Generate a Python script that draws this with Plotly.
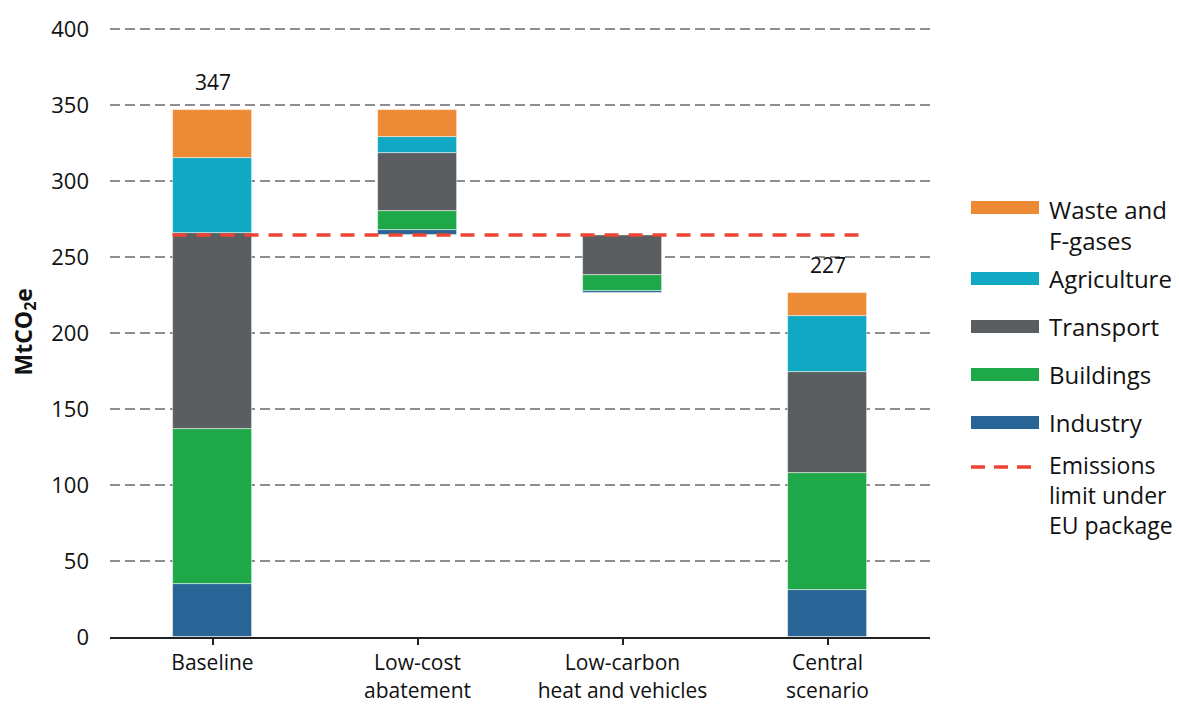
import plotly.graph_objects as go

categories = ["Baseline", "Low-cost<br>abatement", "Low-carbon<br>heat and vehicles", "Central<br>scenario"]
sectors = ["Industry", "Buildings", "Transport", "Agriculture", "Waste and<br>F-gases"]
colors = ["#286495", "#1FA84A", "#5B5E60", "#11A8C4", "#ED8A35"]

# values per sector for each category (bars 2 and 3 are reductions shown as floating waterfall steps)
industry    = [35, 3.5, 1.0, 31]
buildings   = [102, 12, 10.5, 77]
transport   = [129, 38.5, 26.5, 66.5]
agriculture = [49, 10.5, 0, 37]
waste       = [32, 18, 0, 14.5]
series = [industry, buildings, transport, agriculture, waste]

totals_labels = {0: "347", 3: "227"}
emissions_limit = 264.5

n = len(categories)
cat_totals = [sum(s[i] for s in series) for i in range(n)]
start = [0.0] * n
start[1] = cat_totals[0] - cat_totals[1]
start[2] = start[1] - cat_totals[2]
start[3] = 0.0

fig = go.Figure()
running = list(start)
for name, vals, col in zip(sectors, series, colors):
    fig.add_trace(go.Bar(
        x=list(range(n)), y=vals, base=list(running), name=name,
        marker=dict(color=col, line=dict(color="rgba(255,255,255,0.6)", width=0.8)),
        width=0.39, showlegend=False,
    ))
    running = [r + v for r, v in zip(running, vals)]

fig.add_trace(go.Scatter(
    x=[-0.195, 3.17], y=[emissions_limit, emissions_limit], mode="lines",
    line=dict(color="#EE4433", width=3.5, dash="14px,10px"), showlegend=False,
))

font = "Open Sans"
annotations = []
for i, txt in totals_labels.items():
    annotations.append(dict(x=i, y=running[i], text=txt, showarrow=False,
                            xref="x", yref="y", yanchor="bottom", yshift=12,
                            font=dict(size=21, color="#111", family=font)))

# plot area geometry in pixels (used for legend placement only)
L, R, T, B = 110, 930, 20, 637
PX_PER_UNIT = 608 / 400
W = R - L
H = B - T
def px(x):
    return (x - L) / W
def py(y):
    return (B - y) / H

legend_items = [
    ("Waste and<br>F-gases", colors[4], 207.5, 224.5),
    ("Agriculture", colors[3], 278.5, 278.5),
    ("Transport", colors[2], 326.5, 326.5),
    ("Buildings", colors[1], 374.5, 374.5),
    ("Industry", colors[0], 422.5, 422.5),
]
shapes = []
for label, col, sy, ty in legend_items:
    shapes.append(dict(type="rect", xref="paper", yref="paper",
                       x0=px(971), x1=px(1039), y0=py(sy + 6.5), y1=py(sy - 6.5),
                       fillcolor=col, line=dict(width=0)))
    annotations.append(dict(x=px(1047), y=py(ty), xref="paper", yref="paper",
                            text=label, showarrow=False, xanchor="left", yanchor="middle",
                            align="left", font=dict(size=24, color="#111", family=font)))
shapes.append(dict(type="line", xref="paper", yref="paper",
                   x0=px(971), x1=px(1035), y0=py(467), y1=py(467),
                   line=dict(color="#EE4433", width=3.5, dash="14px,9px")))
annotations.append(dict(x=px(1047), y=py(495), xref="paper", yref="paper",
                        text="Emissions<br>limit under<br>EU package", showarrow=False,
                        xanchor="left", yanchor="middle", align="left",
                        font=dict(size=23, color="#111", family=font)))
# y-axis title
annotations.append(dict(x=px(24), y=py(332.5), xref="paper", yref="paper",
                        text="<b>MtCO<sub>2</sub>e</b>", showarrow=False, textangle=-90,
                        xanchor="center", yanchor="middle",
                        font=dict(size=23, color="#111", family=font)))

fig.update_layout(
    width=1179, height=704,
    margin=dict(l=L, r=1179 - R, t=T, b=704 - B),
    paper_bgcolor="white", plot_bgcolor="white",
    barmode="overlay", bargap=0,
    font=dict(family=font, size=22, color="#111"),
    shapes=shapes, annotations=annotations,
    xaxis=dict(
        tickmode="array", tickvals=list(range(n)), ticktext=categories,
        range=[-0.5, 3.5], showline=True, linecolor="#222", linewidth=2,
        ticks="outside", tickson="boundaries", ticklen=6, tickwidth=2, tickcolor="#222",
        showgrid=False, automargin=False,
        tickfont=dict(size=21, family=font, color="#111"),
    ),
    yaxis=dict(
        range=[0, (B - T) / PX_PER_UNIT], tickvals=[0, 50, 100, 150, 200, 250, 300, 350, 400],
        showgrid=True, gridcolor="#8E8E8E", gridwidth=2, griddash="10px,5px",
        zeroline=False, showline=False, ticks="", ticklabelstandoff=20, automargin=False,
        tickfont=dict(size=22, family=font, color="#111"),
    ),
)

fig.write_html("out.html")
